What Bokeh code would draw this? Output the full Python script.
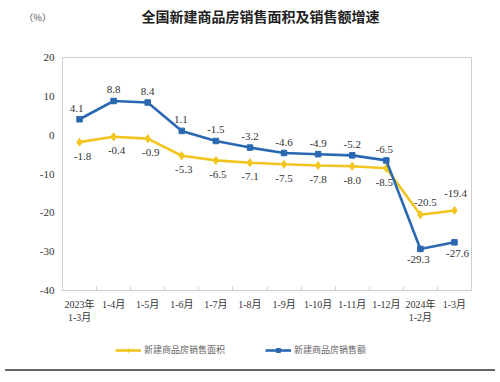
from bokeh.plotting import figure
from bokeh.models import (ColumnDataSource, LabelSet, Label, Legend, LegendItem,
                          FixedTicker, Range1d, Div)
from bokeh.layouts import column
from bokeh.embed import file_html
from bokeh.resources import INLINE

categories = ["2023年\n1-3月", "1-4月", "1-5月", "1-6月", "1-7月", "1-8月", "1-9月",
              "1-10月", "1-11月", "1-12月", "2024年\n1-2月", "1-3月"]
area_growth = [-1.8, -0.4, -0.9, -5.3, -6.5, -7.1, -7.5, -7.8, -8.0, -8.5, -20.5, -19.4]
sales_growth = [4.1, 8.8, 8.4, 1.1, -1.5, -3.2, -4.6, -4.9, -5.2, -6.5, -29.3, -27.6]
y_ticks = [-40, -30, -20, -10, 0, 10, 20]
series_names = ["新建商品房销售面积", "新建商品房销售额"]
title_text = "全国新建商品房销售面积及销售额增速"
unit_text = "（%）"

YELLOW = "#F2C51E"
BLUE = "#2A68B1"
SERIF = "'Liberation Serif', 'Noto Sans CJK SC'"
W = 492
LEFT, RIGHT = 62, 21

n = len(categories)
xs = list(range(n))

# label styling offsets (screen px)
area_yoff = [-14] * (n - 2) + [12, 17]
sales_yoff = [11] * (n - 2) + [-11, -11]
area_xoff = [3, 3, 3, 2, 2, 0, 0, 0, 0, -2, 5, 1]
sales_xoff = [-3, 0, 0, -1, 0, 0, 0, 0, 0, -2, -2, 3]

src_a = ColumnDataSource(dict(x=xs, y=area_growth, t=[f"{v:.1f}" for v in area_growth],
                              yo=area_yoff, xo=area_xoff))
src_s = ColumnDataSource(dict(x=xs, y=sales_growth, t=[f"{v:.1f}" for v in sales_growth],
                              yo=sales_yoff, xo=sales_xoff))

# ---------- top strip: title and unit ----------
TOP_H = 50
top = figure(width=W, height=TOP_H, output_backend="svg", toolbar_location=None,
             x_range=Range1d(0, 1), y_range=Range1d(0, TOP_H), x_axis_type=None,
             min_border_left=LEFT, min_border_right=RIGHT, min_border_top=0,
             min_border_bottom=0)
top.outline_line_color = None
top.grid.visible = False
unit_y = TOP_H - 16
top.yaxis.ticker = FixedTicker(ticks=[unit_y])
top.yaxis.major_label_overrides = {unit_y: unit_text}
top.yaxis.axis_line_color = None
top.yaxis.major_tick_line_color = None
top.yaxis.minor_tick_line_color = None
top.yaxis.major_label_standoff = 5
top.yaxis.major_label_text_font = "Noto Sans CJK SC"
top.yaxis.major_label_text_font_size = "9.5px"
top.yaxis.major_label_text_color = "#555555"
top.add_layout(Label(x=(260 - LEFT) / (W - LEFT - RIGHT), y=TOP_H - 15, text=title_text,
                     text_align="center", text_baseline="middle",
                     text_font="Noto Sans CJK SC", text_font_size="14px",
                     text_font_style="bold", text_color="#222222"))

# ---------- main chart ----------
p = figure(width=W, height=290, output_backend="svg", toolbar_location=None,
           x_range=Range1d(-0.5, n - 0.5), y_range=Range1d(-40, 20),
           min_border_left=LEFT, min_border_right=RIGHT, min_border_top=7,
           min_border_bottom=50)
p.background_fill_color = "white"
p.border_fill_color = "white"
p.outline_line_color = "#cfcfcf"
p.xgrid.visible = False
p.ygrid.visible = False

p.line("x", "y", source=src_a, color=YELLOW, line_width=2.6)
p.scatter("x", "y", source=src_a, marker="diamond", size=8, color=YELLOW)
p.line("x", "y", source=src_s, color=BLUE, line_width=2.6)
p.scatter("x", "y", source=src_s, marker="square", size=5.5, color=BLUE)

for src in (src_a, src_s):
    p.add_layout(LabelSet(x="x", y="y", text="t", source=src, x_offset="xo", y_offset="yo",
                          text_align="center", text_baseline="middle",
                          text_font=SERIF, text_font_size="11px", text_color="#333333"))

p.yaxis.ticker = FixedTicker(ticks=y_ticks)
p.yaxis.major_label_overrides = {t: str(t) for t in y_ticks}
p.yaxis.axis_line_color = "#cfcfcf"
p.yaxis.major_tick_in = 0
p.yaxis.major_tick_out = 0
p.yaxis.minor_tick_line_color = None
p.yaxis.major_label_text_font = SERIF
p.yaxis.major_label_text_font_size = "11px"
p.yaxis.major_label_text_color = "#333333"
p.yaxis.major_label_standoff = 8

p.xaxis.ticker = FixedTicker(ticks=xs, minor_ticks=[i + 0.5 for i in xs[:-1]])
p.xaxis.major_label_overrides = {i: c for i, c in zip(xs, categories)}
p.xaxis.axis_line_color = "#cfcfcf"
p.xaxis.major_tick_in = 0
p.xaxis.major_tick_out = 0
p.xaxis.minor_tick_in = 4
p.xaxis.minor_tick_out = 0
p.xaxis.minor_tick_line_color = "#cfcfcf"
p.xaxis.major_label_text_font = SERIF
p.xaxis.major_label_text_font_size = "10px"
p.xaxis.major_label_text_color = "#333333"
p.xaxis.major_label_standoff = 8

# ---------- bottom strip: legend ----------
BOT_H = 24
bot = figure(width=W, height=BOT_H, output_backend="svg", toolbar_location=None,
             x_range=Range1d(-0.5, n - 0.5), y_range=Range1d(100, 100 + BOT_H),
             x_axis_type=None, y_axis_type=None,
             min_border_left=LEFT, min_border_right=RIGHT, min_border_top=0,
             min_border_bottom=0)
bot.outline_line_color = None
ba = bot.line("x", "y", source=src_a, color=YELLOW, line_width=2.6)
bma = bot.scatter("x", "y", source=src_a, marker="diamond", size=6, color=YELLOW)
bs = bot.line("x", "y", source=src_s, color=BLUE, line_width=2.6)
bms = bot.scatter("x", "y", source=src_s, marker="square", size=5, color=BLUE)
legend = Legend(items=[LegendItem(label=series_names[0], renderers=[ba, bma]),
                       LegendItem(label=series_names[1], renderers=[bs, bms])],
                orientation="horizontal", location=(53, BOT_H - 16),
                label_text_font="Noto Sans CJK SC", label_text_font_size="9px",
                label_text_color="#666666", glyph_width=26, glyph_height=10,
                spacing=40, border_line_color=None, background_fill_alpha=0,
                padding=2, margin=0, label_standoff=3)
bot.add_layout(legend)

rule = Div(text="", width=490, height=4,
           styles={"border-top": "2px solid #666666", "margin-left": "5px"})

layout = column(top, p, bot, rule, spacing=0)
open("out.html", "w").write(file_html(layout, INLINE))
